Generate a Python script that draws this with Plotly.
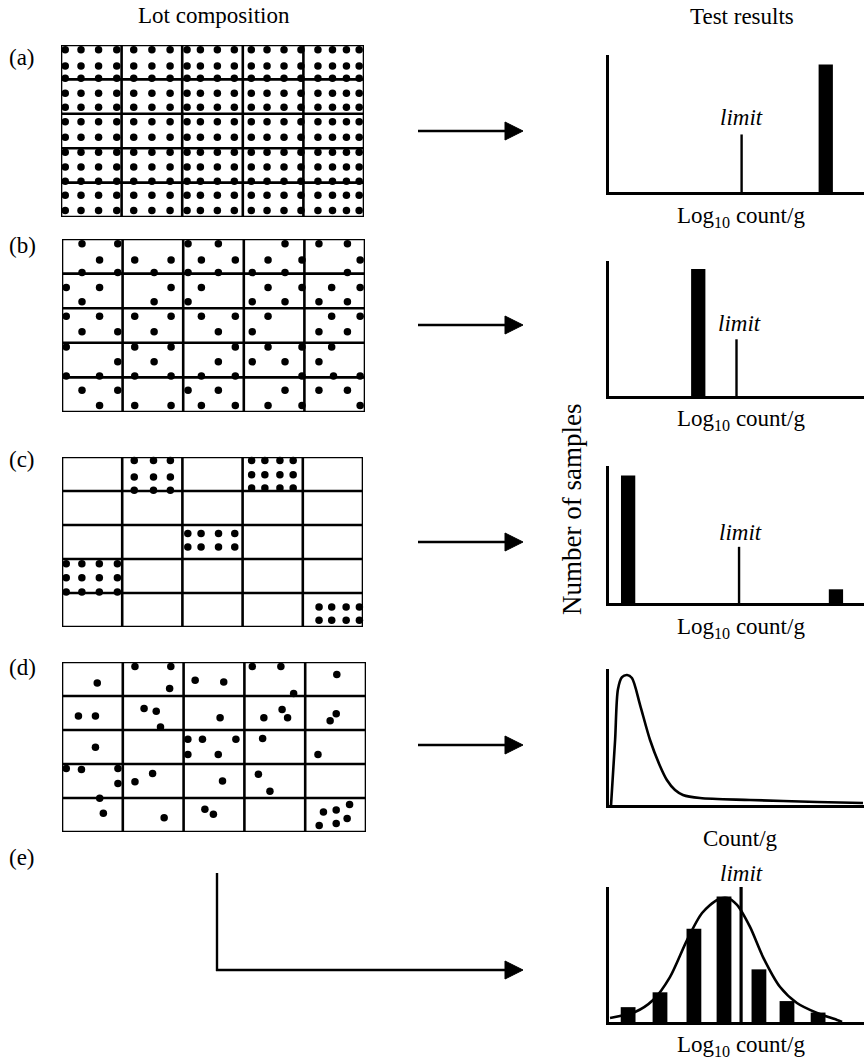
import plotly.graph_objects as go

W, H = 864, 1064
FONT = "Liberation Serif, Times New Roman, serif"

# ---------------- data ----------------
# Lot composition grids: 5 x 5 cells, dot positions in cell units (x: column, y: row from top)
A_COLS = [0.07, 0.33, 0.62, 0.92, 1.20, 1.50, 1.80, 2.08, 2.30, 2.58, 2.86,
          3.14, 3.40, 3.68, 3.96, 4.24, 4.48, 4.71, 4.92]
A_ROWS = [0.14, 0.61, 0.97, 1.40, 1.81, 2.23, 2.68, 3.12, 3.55, 3.96, 4.37, 4.81]

B_X = [0.33, 0.92, 0.62, 0.33, 0.92, 1.20, 1.80, 1.52, 2.08, 2.58, 2.30, 2.86, 2.08, 2.58,
       3.68, 3.40, 3.96, 3.14, 3.68, 4.24, 4.71, 4.92, 4.71,
       0.07, 0.62, 0.33, 1.80, 1.52, 2.30, 2.08, 3.40, 3.96, 3.14, 3.68, 4.45, 4.92, 4.24, 4.71,
       0.07, 0.62, 0.33, 0.92, 1.20, 1.80, 1.52, 2.30, 2.86, 2.58, 3.40, 3.14, 4.45, 4.92, 4.24, 4.71,
       0.07, 0.92, 0.07, 0.62, 1.20, 1.80, 1.52, 1.20, 1.80, 2.86, 2.58, 2.30, 2.86,
       3.40, 3.96, 3.14, 3.68, 3.96, 4.45, 4.24, 4.48, 4.92,
       0.33, 0.92, 0.62, 1.20, 1.80, 2.08, 2.58, 2.30, 2.86, 3.68, 3.40, 3.96, 4.24, 4.71, 4.92]
B_Y = [0.14, 0.14, 0.61, 0.97, 0.97, 0.61, 0.61, 0.97, 0.14, 0.14, 0.61, 0.61, 0.97, 0.97,
       0.14, 0.61, 0.61, 0.97, 0.97, 0.14, 0.14, 0.61, 0.97,
       1.40, 1.40, 1.81, 1.40, 1.81, 1.40, 1.81, 1.40, 1.40, 1.81, 1.81, 1.40, 1.40, 1.81, 1.81,
       2.23, 2.23, 2.68, 2.68, 2.23, 2.23, 2.68, 2.23, 2.23, 2.68, 2.23, 2.68, 2.23, 2.23, 2.68, 2.68,
       3.12, 3.55, 3.96, 3.96, 3.12, 3.12, 3.55, 3.96, 3.96, 3.12, 3.55, 3.96, 3.96,
       3.12, 3.12, 3.55, 3.55, 3.96, 3.12, 3.55, 3.96, 3.96,
       4.37, 4.37, 4.81, 4.81, 4.81, 4.37, 4.37, 4.81, 4.81, 4.37, 4.81, 4.81, 4.37, 4.37, 4.81]

C_X = [1.20, 1.52, 1.80, 1.20, 1.52, 1.80, 1.20, 1.52, 1.80,
       3.15, 3.37, 3.62, 3.84, 3.15, 3.37, 3.62, 3.84, 3.15, 3.37, 3.62, 3.84,
       2.09, 2.31, 2.60, 2.87, 2.09, 2.31, 2.60, 2.87,
       0.07, 0.33, 0.62, 0.92, 0.07, 0.33, 0.62, 0.92, 0.07, 0.33, 0.62, 0.92,
       4.27, 4.48, 4.72, 4.94, 4.27, 4.48, 4.72, 4.94]
C_Y = [0.10, 0.10, 0.10, 0.59, 0.59, 0.59, 0.98, 0.98, 0.98,
       0.10, 0.10, 0.10, 0.10, 0.52, 0.52, 0.52, 0.52, 0.91, 0.91, 0.91, 0.91,
       2.25, 2.25, 2.25, 2.25, 2.65, 2.65, 2.65, 2.65,
       3.14, 3.14, 3.14, 3.14, 3.55, 3.55, 3.55, 3.55, 3.97, 3.97, 3.97, 3.97,
       4.41, 4.41, 4.41, 4.41, 4.80, 4.80, 4.80, 4.80]

D_X = [0.58, 1.20, 1.79, 1.77, 2.19, 2.66, 3.13, 3.60, 3.81, 4.52,
       0.27, 0.55, 1.35, 1.55, 1.62, 2.60, 3.32, 3.62, 3.71, 4.51, 4.41,
       0.55, 2.07, 2.31, 2.86, 2.07, 2.57, 3.30, 4.21,
       0.07, 0.32, 0.92, 0.92, 0.62, 1.20, 1.49, 2.64, 3.23, 3.42,
       0.68, 1.68, 2.35, 2.49, 4.30, 4.51, 4.73, 4.69, 4.51, 4.23]
D_Y = [0.62, 0.13, 0.13, 0.78, 0.54, 0.59, 0.13, 0.13, 0.93, 0.37,
       1.59, 1.59, 1.37, 1.45, 1.91, 1.64, 1.64, 1.40, 1.64, 1.52, 1.73,
       2.51, 2.27, 2.27, 2.27, 2.72, 2.72, 2.25, 2.72,
       3.13, 3.16, 3.13, 3.57, 4.01, 3.52, 3.28, 3.50, 3.30, 3.80,
       4.45, 4.58, 4.33, 4.48, 4.41, 4.35, 4.19, 4.60, 4.75, 4.81]

# Test results (x: relative log10 count/g scale 0-10, y: relative number of samples)
A_BAR_X, A_BAR_Y, A_LIMIT, A_LIMIT_H = [8.5], [0.93], 5.2, 0.42
B_BAR_X, B_BAR_Y, B_LIMIT, B_LIMIT_H = [3.5], [0.94], 5.0, 0.42
C_BAR_X, C_BAR_Y, C_LIMIT, C_LIMIT_H = [0.75, 8.9], [0.93, 0.10], 5.1, 0.41
D_CURVE_X = [0.08, 0.24, 0.35, 0.51, 0.71, 0.90, 1.22, 1.61, 2.0, 2.27, 2.59, 2.9, 3.57, 5.53, 8.16, 9.96]
D_CURVE_Y = [0.0, 0.48, 0.85, 0.94, 0.956, 0.934, 0.735, 0.478, 0.287, 0.184, 0.11, 0.074, 0.051, 0.037, 0.022, 0.015]
E_BAR_X = [0.75, 2.0, 3.33, 4.51, 5.88, 6.98, 8.2]
E_BAR_Y = [0.11, 0.22, 0.69, 0.93, 0.39, 0.155, 0.07]
E_CURVE_X = [0.04, 1.02, 1.73, 2.39, 3.06, 3.65, 4.24, 4.63, 5.02, 5.53, 6.04, 6.71, 7.37, 8.16, 8.94, 9.14]
E_CURVE_Y = [0.03, 0.074, 0.163, 0.333, 0.607, 0.807, 0.904, 0.918, 0.867, 0.704, 0.481, 0.259, 0.141, 0.067, 0.015, 0.0]
E_LIMIT, E_LIMIT_H = 5.18, 1.0

PANEL_LABELS = ["(a)", "(b)", "(c)", "(d)", "(e)"]

# ---------------- layout helpers ----------------
def dx(p0, p1):
    return [p0 / W, p1 / W]

def dy(top, bot):
    return [1 - bot / H, 1 - top / H]

def px(x):
    return x / W

def py(y):
    return 1 - y / H

fig = go.Figure()
layout = dict(width=W, height=H, margin=dict(l=0, r=0, t=0, b=0),
              paper_bgcolor="white", plot_bgcolor="white", showlegend=False)
shapes = []
annotations = []

# Grid panels
grid_boxes = [(61, 364, 45, 217), (62, 365, 239, 412), (62, 363, 457, 627), (62, 366, 662, 832)]
a_x = [x for _ in A_ROWS for x in A_COLS]
a_y = [y for y in A_ROWS for _ in A_COLS]
grid_dots = [(a_x, a_y), (B_X, B_Y), (C_X, C_Y), (D_X, D_Y)]
for i, ((x0, x1, y0, y1), (gx, gy)) in enumerate(zip(grid_boxes, grid_dots), start=1):
    k = "" if i == 1 else str(i)
    layout["xaxis" + k] = dict(domain=dx(x0, x1), range=[0, 5], visible=False, anchor="y" + k)
    layout["yaxis" + k] = dict(domain=dy(y0, y1), range=[5, 0], visible=False, anchor="x" + k)
    fig.add_trace(go.Scatter(x=gx, y=gy, mode="markers", xaxis="x" + k, yaxis="y" + k,
                             marker=dict(size=7.5, color="black"), cliponaxis=False,
                             hoverinfo="skip"))
    for j in range(6):
        shapes.append(dict(type="line", xref="x" + k, yref="y" + k, x0=j, x1=j, y0=0, y1=5,
                           line=dict(color="black", width=2.6)))
        shapes.append(dict(type="line", xref="x" + k, yref="y" + k, x0=0, x1=5, y0=j, y1=j,
                           line=dict(color="black", width=2.6)))

# Test result panels
chart_boxes = [(55, 192), (261, 396), (466, 603), (669, 805), (887, 1022)]
for n, (t, b) in enumerate(chart_boxes, start=5):
    k = str(n)
    layout["xaxis" + k] = dict(domain=dx(609, 864), range=[0, 10], anchor="y" + k,
                               showline=True, linecolor="black", linewidth=2.6,
                               showticklabels=False, ticks="", showgrid=False, zeroline=False,
                               fixedrange=True)
    layout["yaxis" + k] = dict(domain=dy(t, b), range=[0, 1], anchor="x" + k,
                               showline=True, linecolor="black", linewidth=2.6,
                               showticklabels=False, ticks="", showgrid=False, zeroline=False,
                               fixedrange=True)

def bars(xs, ys, k, w=0.56):
    fig.add_trace(go.Bar(x=xs, y=ys, width=[w] * len(xs), xaxis="x" + k, yaxis="y" + k,
                         marker=dict(color="black", line=dict(width=0)), hoverinfo="skip"))

def limit(xv, h, k, w=2.4):
    fig.add_trace(go.Scatter(x=[xv, xv], y=[0, h], mode="lines", xaxis="x" + k, yaxis="y" + k,
                             line=dict(color="black", width=w), hoverinfo="skip"))

def curve(xs, ys, k):
    fig.add_trace(go.Scatter(x=xs, y=ys, mode="lines", xaxis="x" + k, yaxis="y" + k,
                             line=dict(color="black", width=2.6, shape="spline", smoothing=0.8),
                             cliponaxis=False, hoverinfo="skip"))

bars(A_BAR_X, A_BAR_Y, "5"); limit(A_LIMIT, A_LIMIT_H, "5")
bars(B_BAR_X, B_BAR_Y, "6"); limit(B_LIMIT, B_LIMIT_H, "6")
bars(C_BAR_X, C_BAR_Y, "7"); limit(C_LIMIT, C_LIMIT_H, "7")
curve(D_CURVE_X, D_CURVE_Y, "8")
bars(E_BAR_X, E_BAR_Y, "9", w=0.58); limit(E_LIMIT, E_LIMIT_H, "9", w=3.2)
curve(E_CURVE_X, E_CURVE_Y, "9")
layout["barmode"] = "overlay"

# Arrows
def arrow_head(xt, yt):
    return dict(type="path", xref="paper", yref="paper",
                path=f"M {px(xt)},{py(yt)} L {px(xt - 18)},{py(yt - 9)} L {px(xt - 18)},{py(yt + 9)} Z",
                fillcolor="black", line=dict(color="black", width=1))

for yy in [131, 325, 542, 745]:
    shapes.append(dict(type="line", xref="paper", yref="paper", x0=px(418), x1=px(508),
                       y0=py(yy), y1=py(yy), line=dict(color="black", width=2.4)))
    shapes.append(arrow_head(523, yy))
shapes.append(dict(type="line", xref="paper", yref="paper", x0=px(217), x1=px(217),
                   y0=py(873), y1=py(971), line=dict(color="black", width=2.4)))
shapes.append(dict(type="line", xref="paper", yref="paper", x0=px(216), x1=px(508),
                   y0=py(970), y1=py(970), line=dict(color="black", width=2.4)))
shapes.append(arrow_head(523, 970))

# Text
def text(s, x, y, size=23, angle=0):
    annotations.append(dict(text=s, x=px(x), y=py(y), xref="paper", yref="paper",
                            showarrow=False, xanchor="center", yanchor="middle", textangle=angle,
                            font=dict(family=FONT, size=size, color="black")))

text("Lot composition", 214, 15)
text("Test results", 742, 17)
for lab, yy in zip(PANEL_LABELS, [57, 245, 460, 667, 857]):
    text(lab, 22, yy)
XLAB = "Log<sub>10</sub> count/g"
text(XLAB, 741, 217)
text(XLAB, 741, 420)
text(XLAB, 741, 628)
text("Count/g", 740, 838)
text(XLAB, 741, 1046)
for yy, xx in [(118, 741), (323, 739), (532, 740), (873, 741)]:
    text("<i>limit</i>", xx, yy)
text("Number of samples", 572, 510, size=27, angle=-90)

layout["shapes"] = shapes
layout["annotations"] = annotations
fig.update_layout(**layout)
fig.write_html("out.html")
